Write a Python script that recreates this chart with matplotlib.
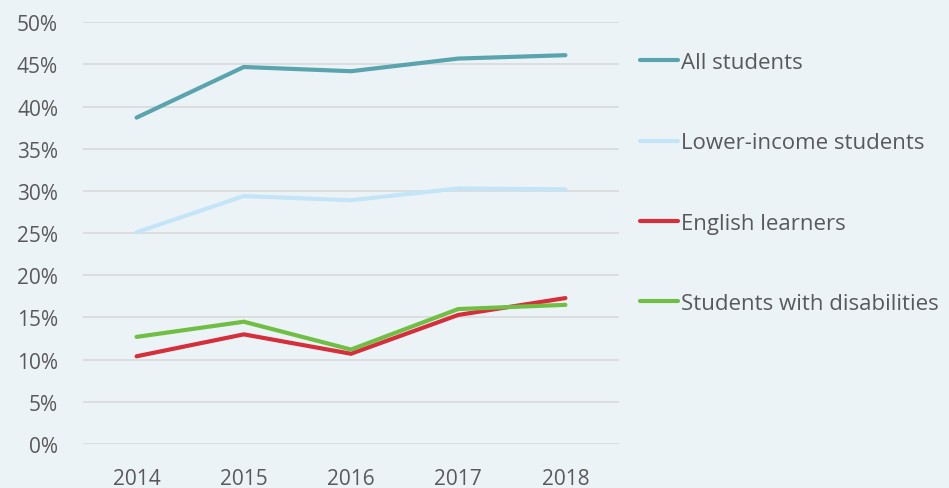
import matplotlib
matplotlib.use("Agg")
import matplotlib.pyplot as plt
from matplotlib.ticker import FuncFormatter

years = ["2014", "2015", "2016", "2017", "2018"]
all_students = [38.7, 44.7, 44.2, 45.7, 46.1]
lower_income = [25.1, 29.4, 28.9, 30.3, 30.2]
english_learners = [10.4, 13.0, 10.7, 15.3, 17.3]
disabilities = [12.7, 14.5, 11.2, 16.0, 16.5]

series_names = ["All students", "Lower-income students", "English learners", "Students with disabilities"]
series_colors = ["#5aa4ae", "#c4e5f7", "#d62f3c", "#70bf44"]

plt.rcParams['font.family'] = ['Open Sans', 'DejaVu Sans']
bg = "#ecf3f7"
txt = "#595959"

fig = plt.figure(figsize=(9.49, 4.89), dpi=100, facecolor=bg)
ax = fig.add_axes([83/949, 1-445/489, (619-83)/949, (445-23.3)/489])
ax.set_facecolor(bg)

x = list(range(len(years)))
for vals, name, col in zip([all_students, lower_income, english_learners, disabilities], series_names, series_colors):
    ax.plot(x, vals, color=col, lw=3.0, label=name, solid_capstyle='round', solid_joinstyle='miter')

ax.set_xlim(-0.5, 4.5)
ax.set_ylim(0, 50)
ax.set_yticks(range(0, 51, 5))
ax.yaxis.set_major_formatter(FuncFormatter(lambda v, p: f"{int(v)}%"))
ax.set_xticks(x)
ax.set_xticklabels(years)
ax.grid(axis='y', color='#d9d9d9', lw=1.2)
ax.set_axisbelow(True)
for s in ax.spines.values():
    s.set_visible(False)
ax.tick_params(axis='both', length=0, labelsize=15, labelcolor=txt)
ax.tick_params(axis='y', pad=18)
ax.tick_params(axis='x', pad=17)

leg = fig.legend(loc='upper left', bbox_to_anchor=(640/949, 1-53/489), frameon=False,
                 fontsize=16, labelspacing=2.67, handlelength=1.72, handletextpad=0.13,
                 borderpad=0, borderaxespad=0)
for t in leg.get_texts():
    t.set_color(txt)

fig.savefig("out.png", dpi=100, facecolor=bg)
